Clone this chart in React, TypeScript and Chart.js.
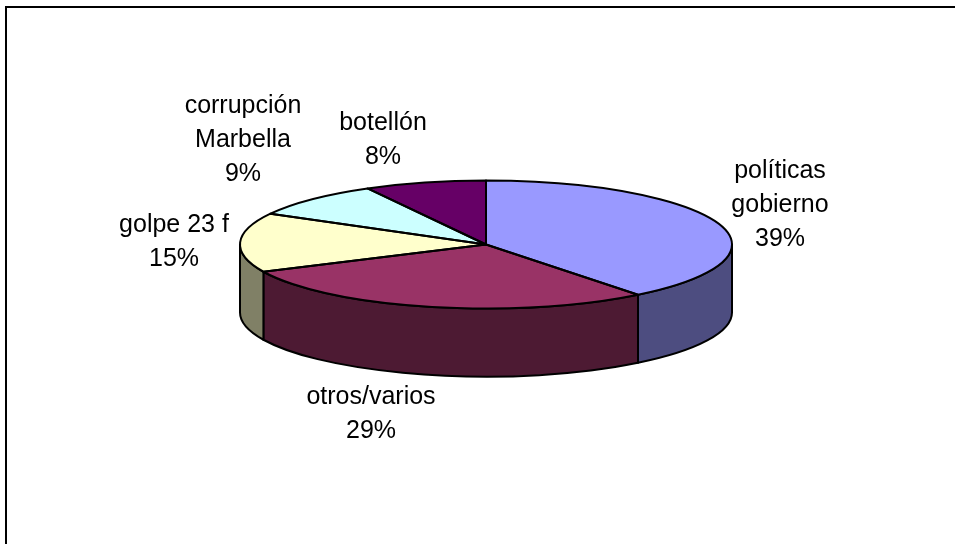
import React, { useEffect, useRef } from "react";
import { Chart, registerables } from "chart.js";

Chart.register(...registerables);

const categories = ["políticas gobierno", "otros/varios", "golpe 23 f", "corrupción Marbella", "botellón"];
const values = [39.4, 28.6, 15, 9, 8];
const percentLabels = ["39%", "29%", "15%", "9%", "8%"];
const labelLines = [["políticas", "gobierno"], ["otros/varios"], ["golpe 23 f"], ["corrupción", "Marbella"], ["botellón"]];
const topColors = ["#9999FF", "#993366", "#FFFFCC", "#CCFFFF", "#660066"];
const wallColors = ["#4D4D80", "#4D1A33", "#808066", "#668080", "#330033"];

// layout only
const W = 955, H = 544;
const RX = 246, RY = 64, DEPTH = 68;
const labelAnchors = [
  { x: 780, y: 178 },
  { x: 371, y: 404 },
  { x: 174, y: 232 },
  { x: 243, y: 113 },
  { x: 383, y: 130 },
];
const LINE_STEP = 34;

const pie3d = {
  id: "pie3d",
  beforeDatasetsDraw(chart: any) {
    const ctx = chart.ctx;
    const arcs = chart.getDatasetMeta(0).data;
    ctx.save();
    ctx.lineWidth = 2;
    ctx.strokeStyle = "#000";
    ctx.lineJoin = "round";
    arcs.forEach((arc: any, i: number) => {
      const a = Math.max(arc.startAngle, 0);
      const b = Math.min(arc.endAngle, Math.PI);
      if (b <= a) return;
      ctx.beginPath();
      ctx.ellipse(arc.x, arc.y, RX, RY, 0, a, b, false);
      ctx.ellipse(arc.x, arc.y + DEPTH, RX, RY, 0, b, a, true);
      ctx.closePath();
      ctx.fillStyle = wallColors[i];
      ctx.fill();
      ctx.stroke();
    });
    ctx.restore();
    // squash the library's own round pie into the tilted top face
    const first = arcs[0];
    ctx.save();
    ctx.translate(first.x, first.y);
    ctx.scale(1, RY / RX);
    ctx.translate(-first.x, -first.y);
  },
  afterDatasetsDraw(chart: any) {
    const ctx = chart.ctx;
    ctx.restore();
    const arcs = chart.getDatasetMeta(0).data;
    ctx.save();
    ctx.lineWidth = 2;
    ctx.strokeStyle = "#000";
    ctx.lineJoin = "round";
    arcs.forEach((arc: any) => {
      ctx.beginPath();
      ctx.moveTo(arc.x, arc.y);
      ctx.ellipse(arc.x, arc.y, RX, RY, 0, arc.startAngle, arc.endAngle, false);
      ctx.closePath();
      ctx.stroke();
    });
    // frame
    ctx.fillStyle = "#000";
    ctx.fillRect(5, 6, 2, H - 6);
    ctx.fillRect(5, 6, W - 5, 2);
    // labels
    ctx.font = '25px "Liberation Sans", Arial, sans-serif';
    ctx.textAlign = "center";
    ctx.textBaseline = "alphabetic";
    ctx.fillStyle = "#000";
    labelLines.forEach((lines, i) => {
      const all = [...lines, percentLabels[i]];
      all.forEach((t, j) => ctx.fillText(t, labelAnchors[i].x, labelAnchors[i].y + j * LINE_STEP));
    });
    ctx.restore();
  },
};

export default function App() {
  const ref = useRef<HTMLCanvasElement>(null);
  useEffect(() => {
    const chart = new Chart(ref.current!, {
      type: "pie",
      data: {
        labels: categories,
        datasets: [{ data: values, backgroundColor: topColors, borderWidth: 0 }],
      },
      options: {
        animation: false,
        responsive: false,
        radius: RX,
        layout: { padding: { left: 17, bottom: 55 } },
        plugins: { legend: { display: false }, tooltip: { enabled: false } },
      },
      plugins: [pie3d],
    } as any);
    return () => chart.destroy();
  }, []);
  return (
    <canvas
      ref={ref}
      width={W}
      height={H}
      style={{ position: "fixed", left: 0, top: 0, width: W, height: H, display: "block", background: "#fff" }}
    />
  );
}
